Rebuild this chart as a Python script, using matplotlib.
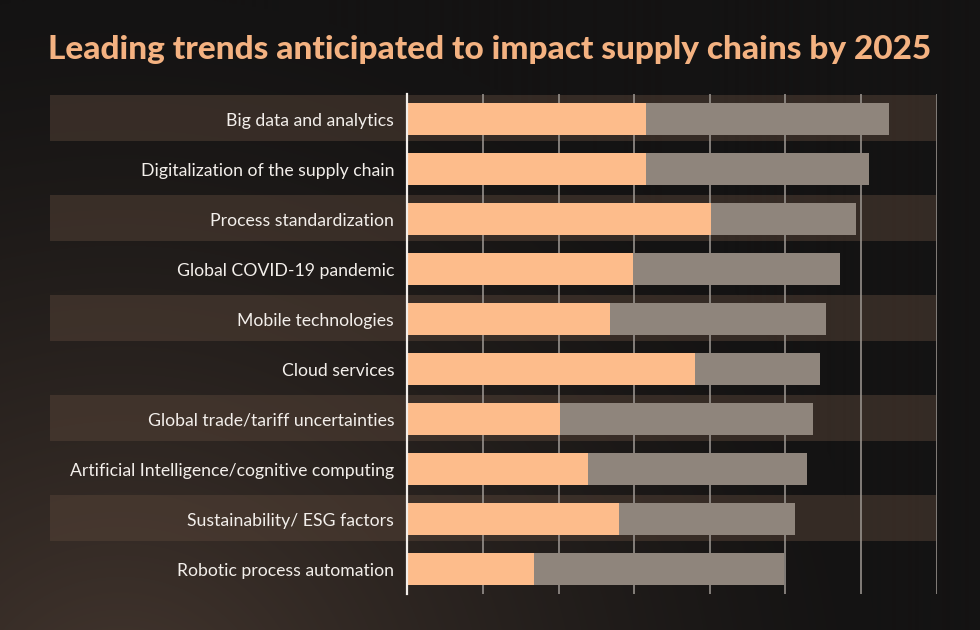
import numpy as np
import matplotlib
matplotlib.use("Agg")
import matplotlib.pyplot as plt
from matplotlib.patches import Rectangle
from matplotlib.transforms import blended_transform_factory

# ---- data ----
categories = [
    "Big data and analytics",
    "Digitalization of the supply chain",
    "Process standardization",
    "Global COVID-19 pandemic",
    "Mobile technologies",
    "Cloud services",
    "Global trade/tariff uncertainties",
    "Artificial Intelligence/cognitive computing",
    "Sustainability/ ESG factors",
    "Robotic process automation",
]
series_a = [31.5, 31.5, 40.2, 29.8, 26.8, 38.0, 20.2, 23.9, 28.0, 16.7]
series_b = [32.2, 29.5, 19.1, 27.4, 28.5, 16.6, 33.5, 28.9, 23.3, 33.1]
grid_ticks = [10, 20, 30, 40, 50, 60, 70]
title = "Leading trends anticipated to impact supply chains by 2025"

W, H, DPI = 980, 630, 100
fig = plt.figure(figsize=(W / DPI, H / DPI), dpi=DPI)
fig.patch.set_facecolor("#141313")

# background gradient
bg = fig.add_axes([0, 0, 1, 1], zorder=-10)
yy, xx = np.mgrid[0:H, 0:W]
d = np.sqrt((xx - 120.0) ** 2 + ((yy - 720.0) * 1.05) ** 2)
b = np.clip(1 - d / 760.0, 0, 1) ** 1.3
dark = np.array([0x14, 0x13, 0x13]) / 255
brown = np.array([0x45, 0x37, 0x2f]) / 255
img = dark[None, None, :] + b[..., None] * (brown - dark)[None, None, :]
bg.imshow(img, aspect="auto", extent=[0, 1, 0, 1], origin="upper")
bg.set_axis_off()

# main axes
x0_px, x1_px = 407.3, 936.7
top_px, bot_px = 94.2, 594.2
ax = fig.add_axes([x0_px / W, 1 - bot_px / H, (x1_px - x0_px) / W, (bot_px - top_px) / H])
ax.set_facecolor("none")
n = len(categories)
y = np.arange(n)
ax.set_xlim(0, 70)
ax.set_ylim(n - 0.5, -0.5)

# alternating row bands (extend behind labels)
tr = blended_transform_factory(fig.transFigure, ax.transData)
for i in range(0, n, 2):
    r = Rectangle((50 / W, i - 0.49), (936 - 50) / W, 0.92, transform=tr,
                  facecolor="#564337", alpha=0.5, edgecolor="none",
                  clip_on=False, zorder=0)
    ax.add_patch(r)

# grid
ax.set_xticks(grid_ticks)
ax.xaxis.grid(True, color="#a09a95", linewidth=1.1, zorder=1)
ax.set_axisbelow(True)
ax.tick_params(axis="x", length=0, labelbottom=False)

# bars
ax.barh(y, series_a, height=0.63, color="#FDBC8B", zorder=3)
ax.barh(y, series_b, left=series_a, height=0.63, color="#8F857C", zorder=3)

# spines
for s in ["top", "right", "bottom"]:
    ax.spines[s].set_visible(False)
ax.spines["left"].set_color("#f2eeea")
ax.spines["left"].set_linewidth(1.6)
ax.spines["left"].set_zorder(4)

ax.set_yticks(y)
ax.set_yticklabels(categories, fontfamily="Lato", color="#f3efeb", fontsize=12.5)
ax.tick_params(axis="y", length=0, pad=9.4)

# fit label font size so longest label ~ 324 px
fig.canvas.draw()
renderer = fig.canvas.get_renderer()
labs = ax.get_yticklabels()
wmax = max(t.get_window_extent(renderer).width for t in labs)
fs = 12.5 * 324.0 / wmax
for t in labs:
    t.set_fontsize(fs)

# title
tt = fig.text(0.5, 1 - 49 / H, title, ha="center", va="center",
              fontfamily="Lato", fontweight="black",
              color="#F4B281", fontsize=26)
fig.canvas.draw()
tw = tt.get_window_extent(renderer).width
tt.set_fontsize(26 * 885.0 / tw)

fig.savefig("out.png", dpi=DPI, facecolor=fig.get_facecolor())
